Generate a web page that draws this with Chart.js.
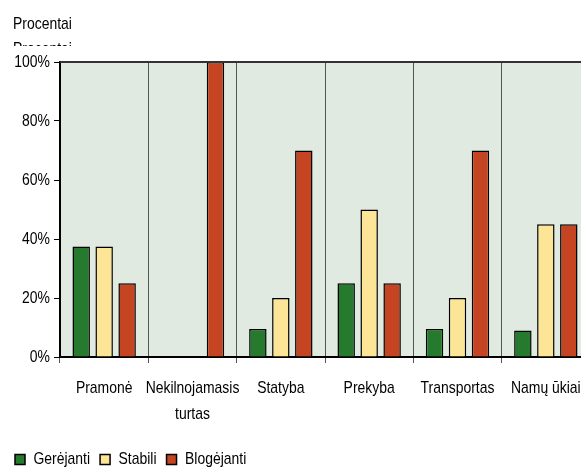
<!DOCTYPE html>
<html><head><meta charset="utf-8">
<script src="https://cdn.jsdelivr.net/npm/chart.js@4/dist/chart.umd.min.js"></script>
<style>html,body{margin:0;padding:0;overflow:hidden;background:#fff}canvas{display:block}</style>
</head><body>
<canvas id="c" width="600" height="468"></canvas>
<script>
const categories = [['Pramonė'], ['Nekilnojamasis', 'turtas'], ['Statyba'], ['Prekyba'], ['Transportas'], ['Namų ūkiai']];
const seriesNames = ['Gerėjanti', 'Stabili', 'Blogėjanti'];
const gerejanti = [37.5, 0, 9.5, 25, 9.5, 9];
const stabili = [37.5, 0, 20, 50, 20, 45];
const blogejanti = [25, 100, 70, 25, 70, 45];
const yTickValues = [0, 20, 40, 60, 80, 100];
const axisTitle = 'Procentai';

// Narrow (condensed) text rendering: the original uses an Arial Narrow-like face.
const NARROW = 0.82;
(function () {
  const P = CanvasRenderingContext2D.prototype;
  const origFill = P.fillText, origMeasure = P.measureText;
  P.fillText = function (t, x, y, mw) {
    this.save();
    this.translate(x, y);
    this.scale(NARROW, 1);
    if (mw !== undefined) origFill.call(this, t, 0, 0, mw / NARROW);
    else origFill.call(this, t, 0, 0);
    this.restore();
  };
  P.measureText = function (t) {
    const m = origMeasure.call(this, t);
    return {
      width: m.width * NARROW,
      actualBoundingBoxAscent: m.actualBoundingBoxAscent,
      actualBoundingBoxDescent: m.actualBoundingBoxDescent,
      actualBoundingBoxLeft: m.actualBoundingBoxLeft * NARROW,
      actualBoundingBoxRight: m.actualBoundingBoxRight * NARROW,
      fontBoundingBoxAscent: m.fontBoundingBoxAscent,
      fontBoundingBoxDescent: m.fontBoundingBoxDescent
    };
  };
})();

const FONT = "'Liberation Sans',Arial,sans-serif";
Chart.defaults.font.family = FONT;
Chart.defaults.font.size = 17;
Chart.defaults.color = '#000';

const colors = ['#267a2e', '#fde597', '#c54523'];

const bgPlugin = {
  id: 'bg',
  beforeDraw(chart) {
    const a = chart.chartArea, ctx = chart.ctx;
    ctx.save();
    ctx.fillStyle = '#e0eae0';
    ctx.fillRect(a.left, a.top, a.right - a.left, a.bottom - a.top);
    ctx.restore();
  },
  afterDraw(chart) {
    const a = chart.chartArea, ctx = chart.ctx;
    ctx.save();
    ctx.strokeStyle = '#333';
    ctx.lineWidth = 2;
    ctx.beginPath();
    ctx.moveTo(a.left, a.top);
    ctx.lineTo(a.right, a.top);
    ctx.stroke();
    ctx.fillStyle = '#000';
    ctx.font = "17px " + FONT;
    ctx.textBaseline = 'alphabetic';
    ctx.textAlign = 'left';
    ctx.fillText(axisTitle, 13, 29);
    ctx.beginPath();
    ctx.rect(0, 38, 200, 8);
    ctx.clip();
    ctx.fillText(axisTitle, 13, 54);
    ctx.restore();
  }
};

new Chart(document.getElementById('c'), {
  type: 'bar',
  data: {
    labels: categories,
    datasets: [
      { label: seriesNames[0], data: gerejanti, backgroundColor: colors[0] },
      { label: seriesNames[1], data: stabili, backgroundColor: colors[1] },
      { label: seriesNames[2], data: blogejanti, backgroundColor: colors[2] }
    ].map(d => Object.assign(d, { borderColor: '#000', borderWidth: 1.5, categoryPercentage: 0.78, barPercentage: 0.76 }))
  },
  options: {
    responsive: false,
    animation: false,
    layout: { padding: { top: 62, right: 10, left: 5, bottom: -10 } },
    plugins: {
      tooltip: { enabled: false },
      legend: {
        position: 'bottom',
        align: 'start',
        labels: { boxWidth: 10, boxHeight: 10, padding: 10, font: { size: 17 }, color: '#000' }
      }
    },
    scales: {
      x: {
        grid: { offset: true, color: '#555', lineWidth: 1, tickLength: 6, drawTicks: true },
        border: { color: '#000', width: 2 },
        ticks: { padding: 12, font: { size: 17, lineHeight: 1.55 }, maxRotation: 0, autoSkip: false },
        afterFit(s) { s.height = 84; }
      },
      y: {
        min: 0, max: 100,
        afterBuildTicks(s) { s.ticks = yTickValues.map(v => ({ value: v })); },
        grid: { drawOnChartArea: false, drawTicks: true, tickLength: 6, color: '#000' },
        border: { color: '#000', width: 2 },
        ticks: { padding: 4, callback: v => v + '%', font: { size: 17 } },
        afterFit(s) { s.width = 55; }
      }
    }
  },
  plugins: [bgPlugin]
});
</script>
</body></html>
